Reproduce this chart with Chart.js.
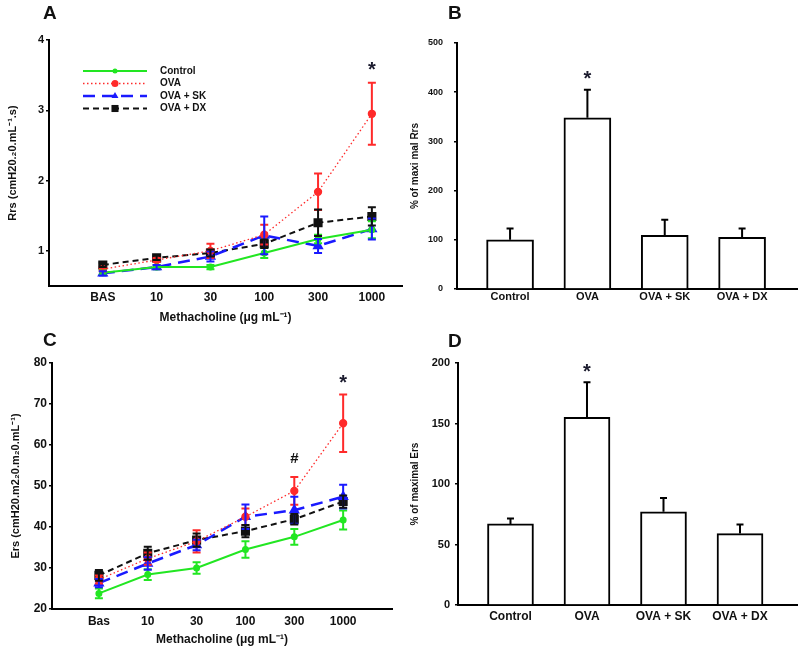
<!DOCTYPE html>
<html>
<head>
<meta charset="utf-8">
<script src="https://cdn.jsdelivr.net/npm/chart.js@4.4.1/dist/chart.umd.min.js"></script>
<style>
  body { margin: 0; background: #fff; width: 800px; height: 652px; position: relative; overflow: hidden;
         font-family: "Liberation Sans", Arial, sans-serif; }
  .panel { position: absolute; }
  .tag { position: absolute; font-weight: bold; font-size: 19px; line-height: 19px; color: #111; }
</style>
</head>
<body>
<div class="panel" style="left:0;top:0"><canvas id="chartA" width="410" height="330"></canvas></div>
<div class="panel" style="left:400px;top:0"><canvas id="chartB" width="400" height="330"></canvas></div>
<div class="panel" style="left:0;top:330px"><canvas id="chartC" width="400" height="322"></canvas></div>
<div class="panel" style="left:400px;top:330px"><canvas id="chartD" width="400" height="322"></canvas></div>
<div class="tag" style="left:43px;top:3px">A</div>
<div class="tag" style="left:448px;top:3px">B</div>
<div class="tag" style="left:43px;top:330px">C</div>
<div class="tag" style="left:448px;top:331px">D</div>
<script>
const FONT = '"Liberation Sans", Arial, sans-serif';

// Panel A - respiratory resistance (Rrs)
const dosesA = ['BAS', '10', '30', '100', '300', '1000'];
const rrsTicks = [1, 2, 3, 4];
const ctrlRrs = [0.69, 0.77, 0.77, 0.97, 1.17, 1.30];
const ctrlRrsSem = [0.03, 0.03, 0.03, 0.07, 0.06, 0.12];
const ovaRrs = [0.74, 0.87, 1.00, 1.23, 1.84, 2.95];
const ovaRrsSem = [0.03, 0.03, 0.10, 0.14, 0.26, 0.44];
const skRrs = [0.68, 0.77, 0.92, 1.22, 1.07, 1.31];
const skRrsSem = [0.03, 0.03, 0.07, 0.27, 0.10, 0.15];
const dxRrs = [0.80, 0.90, 0.97, 1.10, 1.40, 1.49];
const dxRrsSem = [0.03, 0.03, 0.05, 0.06, 0.19, 0.13];

// Panel C - respiratory elastance (Ers)
const dosesC = ['Bas', '10', '30', '100', '300', '1000'];
const ersTicks = [20, 30, 40, 50, 60, 70, 80];
const ctrlErs = [23.8, 28.4, 30.0, 34.5, 37.6, 41.7];
const ctrlErsSem = [1.2, 1.3, 1.4, 2.0, 1.9, 2.3];
const ovaErs = [27.2, 32.3, 36.5, 42.5, 48.8, 65.3];
const ovaErsSem = [1.0, 1.5, 2.7, 2.0, 3.4, 7.0];
const skErs = [26.3, 31.1, 35.6, 42.5, 44.1, 47.4];
const skErsSem = [1.0, 1.5, 1.3, 3.0, 3.3, 2.9];
const dxErs = [28.2, 33.6, 36.8, 39.0, 41.9, 46.2];
const dxErsSem = [1.3, 1.6, 1.6, 1.5, 1.3, 1.5];

// Panels B and D - % of maximal response
const groups = ['Control', 'OVA', 'OVA + SK', 'OVA + DX'];
const pctRrsTicks = [0, 100, 200, 300, 400, 500];
const pctRrs = [100, 348, 109, 105];
const pctRrsSem = [23, 57, 32, 18];
const pctErsTicks = [0, 50, 100, 150, 200];
const pctErs = [67, 155, 77, 59];
const pctErsSem = [4.5, 29, 11.5, 7.5];

// significance marks: [category index, value, symbol]
const marksA = [[5, 3.57, '*']];
const marksB = [[1, 425, '*']];
const marksC = [[5, 75, '*'], [4, 56.5, '#']];
const marksD = [[1, 192, '*']];

const seriesNames = ['Control', 'OVA', 'OVA + SK', 'OVA + DX'];
const seriesStyle = [
  { color: '#22e622', dash: [], width: 2, point: 'circle', r: 2.5 },
  { color: '#ff2a2a', dash: [1.5, 2.5], width: 1.3, point: 'circle', r: 3.5 },
  { color: '#1a1aff', dash: [12, 7], width: 2.5, point: 'triangle', r: 4 },
  { color: '#111111', dash: [6, 4], width: 2, point: 'rect', r: 5 }
];

function lineSets(values, sems) {
  return values.map((vals, k) => {
    const s = seriesStyle[k];
    return {
      label: seriesNames[k],
      data: vals.map((v, i) => ({ x: i, y: v })),
      sem: sems[k],
      borderColor: s.color,
      backgroundColor: s.color,
      pointBackgroundColor: s.color,
      pointBorderColor: s.color,
      borderWidth: s.width,
      borderDash: s.dash,
      pointStyle: s.point,
      pointRadius: s.r,
      tension: 0,
      fill: false
    };
  });
}

function drawShape(ctx, style, r, x, y) {
  ctx.beginPath();
  if (style === 'circle') {
    ctx.arc(x, y, r, 0, Math.PI * 2);
  } else if (style === 'triangle') {
    ctx.moveTo(x, y - r);
    ctx.lineTo(x + r * 0.87, y + r * 0.5);
    ctx.lineTo(x - r * 0.87, y + r * 0.5);
    ctx.closePath();
  } else {
    const h = r * Math.SQRT1_2;
    ctx.rect(x - h, y - h, 2 * h, 2 * h);
  }
  ctx.fill();
}

// error bars, significance marks and the inset legend
const extras = {
  id: 'extras',
  afterDatasetsDraw(chart, args, opts) {
    const ctx = chart.ctx;
    const xs = chart.scales.x, ys = chart.scales.y;
    ctx.save();
    chart.data.datasets.forEach((ds, k) => {
      if (!ds.sem) return;
      const meta = chart.getDatasetMeta(k);
      ctx.strokeStyle = ds.errColor || ds.borderColor;
      ctx.lineWidth = 2;
      ctx.setLineDash([]);
      ds.data.forEach((pt, i) => {
        const x = meta.data[i].x;
        const top = ys.getPixelForValue(pt.y + ds.sem[i]);
        const bot = ds.upOnly ? ys.getPixelForValue(pt.y) : ys.getPixelForValue(pt.y - ds.sem[i]);
        ctx.beginPath();
        ctx.moveTo(x, bot); ctx.lineTo(x, top);
        ctx.moveTo(x - opts.cap, top); ctx.lineTo(x + opts.cap, top);
        if (!ds.upOnly) { ctx.moveTo(x - opts.cap, bot); ctx.lineTo(x + opts.cap, bot); }
        ctx.stroke();
      });
    });
    (opts.marks || []).forEach(m => {
      ctx.fillStyle = m[2] === '*' ? '#1b1b2e' : '#111';
      ctx.font = (m[2] === '*' ? 'bold 20px ' : 'bold 15px ') + FONT;
      ctx.textAlign = 'center';
      ctx.textBaseline = 'middle';
      ctx.fillText(m[2], xs.getPixelForValue(m[0]), ys.getPixelForValue(m[1]));
    });
    const lg = opts.legend;
    if (lg) {
      chart.data.datasets.forEach((ds, k) => {
        const y = lg.y + k * lg.row;
        ctx.strokeStyle = ds.borderColor;
        ctx.lineWidth = ds.borderWidth;
        ctx.setLineDash(ds.borderDash);
        ctx.beginPath(); ctx.moveTo(lg.x, y); ctx.lineTo(lg.x + lg.w, y); ctx.stroke();
        ctx.setLineDash([]);
        ctx.fillStyle = ds.borderColor;
        drawShape(ctx, ds.pointStyle, ds.pointRadius, lg.x + lg.w / 2, y);
        ctx.fillStyle = '#111';
        ctx.font = 'bold ' + lg.size + 'px ' + FONT;
        ctx.textAlign = 'left';
        ctx.textBaseline = 'middle';
        ctx.fillText(ds.label, lg.tx, y);
      });
    }
    ctx.restore();
  }
};

function axes(cfg) {
  return {
    x: {
      type: 'linear', min: cfg.xmin, max: cfg.xmax, offset: false,
      afterBuildTicks: s => { s.ticks = cfg.labels.map((l, i) => ({ value: i })); },
      afterFit: s => { s.height = cfg.xh; },
      grid: { display: false, drawTicks: false, offset: false },
      border: { color: '#000', width: 2 },
      ticks: { color: '#111', padding: cfg.xpad, maxRotation: 0, autoSkip: false,
               font: { family: FONT, size: cfg.xfont, weight: 'bold' },
               callback: v => cfg.labels[v] },
      title: cfg.xtitle ? { display: true, text: cfg.xtitle, color: '#111',
               padding: { top: 0, bottom: 5 }, font: { family: FONT, size: 12, weight: 'bold' } }
             : { display: false }
    },
    y: {
      min: cfg.ymin, max: cfg.ymax,
      afterBuildTicks: s => { s.ticks = cfg.yticks.map(v => ({ value: v })); },
      afterFit: s => { s.width = cfg.yw; },
      grid: { drawOnChartArea: false, drawTicks: true, tickLength: 3, color: '#000', lineWidth: 1.5 },
      border: { color: '#000', width: 2 },
      ticks: { color: '#111', padding: cfg.ypad, font: { family: FONT, size: cfg.yfont, weight: 'bold' } },
      title: { display: true, text: cfg.ytitle, color: '#111',
               padding: { top: cfg.ytpad, bottom: 0 }, font: { family: FONT, size: cfg.ytsize, weight: 'bold' } }
    }
  };
}

function lineChart(id, labels, sets, cfg, marks, legend) {
  return new Chart(document.getElementById(id), {
    type: 'line',
    data: { datasets: sets },
    options: {
      responsive: false, animation: false,
      layout: { padding: cfg.pad },
      plugins: { legend: { display: false }, tooltip: { enabled: false },
                 extras: { cap: 4, marks: marks, legend: legend } },
      scales: axes(Object.assign({ labels: labels }, cfg))
    },
    plugins: [extras]
  });
}

function barChart(id, values, sems, cfg, marks) {
  return new Chart(document.getElementById(id), {
    type: 'bar',
    data: { datasets: [{
      data: values.map((v, i) => ({ x: i, y: v })),
      sem: sems, upOnly: true, errColor: '#000',
      backgroundColor: '#fff', borderColor: '#000', borderWidth: 2,
      borderSkipped: 'start', barThickness: cfg.barW
    }] },
    options: {
      responsive: false, animation: false,
      layout: { padding: cfg.pad },
      plugins: { legend: { display: false }, tooltip: { enabled: false },
                 extras: { cap: 3.5, marks: marks } },
      scales: axes(Object.assign({ labels: groups }, cfg))
    },
    plugins: [extras]
  });
}

lineChart('chartA', dosesA,
  lineSets([ctrlRrs, ovaRrs, skRrs, dxRrs], [ctrlRrsSem, ovaRrsSem, skRrsSem, dxRrsSem]),
  { pad: { left: 0, top: 40, right: 8, bottom: 0 }, xmin: -1, xmax: 5.56, ymin: 0.5, ymax: 4,
    yticks: rrsTicks, yw: 49, xh: 44, xpad: 4, ypad: 2, xfont: 12, yfont: 11,
    ytitle: 'Rrs (cmH20.\u20820.mL\u207B\u00B9.s)', ytpad: 6, ytsize: 11,
    xtitle: 'Methacholine (\u03BCg mL\u207B\u00B9)' },
  marksA, { x: 83, w: 64, tx: 160, y: 71, row: 12.5, size: 10 });

barChart('chartB', pctRrs, pctRrsSem,
  { pad: { left: 0, top: 43, right: 3, bottom: 0 }, xmin: -0.686, xmax: 3.71, ymin: 0, ymax: 500,
    yticks: pctRrsTicks, yw: 57, xh: 41, xpad: 1, ypad: 11, xfont: 11, yfont: 9,
    ytitle: '% of maxi mal Rrs', ytpad: 9, ytsize: 10, barW: 47 },
  marksB);

lineChart('chartC', dosesC,
  lineSets([ctrlErs, ovaErs, skErs, dxErs], [ctrlErsSem, ovaErsSem, skErsSem, dxErsSem]),
  { pad: { left: 0, top: 33, right: 8, bottom: 0 }, xmin: -0.96, xmax: 6.0, ymin: 20, ymax: 80,
    yticks: ersTicks, yw: 52, xh: 43, xpad: 5, ypad: 2, xfont: 12, yfont: 12,
    ytitle: 'Ers (cmH20.m2\u20820.m\u20820.mL\u207B\u00B9)', ytpad: 9, ytsize: 11,
    xtitle: 'Methacholine (\u03BCg mL\u207B\u00B9)' },
  marksC, { x: 78, w: 57, tx: 147, y: 381, row: 10, size: 9.5 });

barChart('chartD', pctErs, pctErsSem,
  { pad: { left: 0, top: 33, right: 3, bottom: 0 }, xmin: -0.686, xmax: 3.745, ymin: 0, ymax: 200,
    yticks: pctErsTicks, yw: 58, xh: 47, xpad: 4, ypad: 5, xfont: 12, yfont: 11,
    ytitle: '% of maximal Ers', ytpad: 9, ytsize: 10, barW: 46 },
  marksD);
</script>
</body>
</html>
